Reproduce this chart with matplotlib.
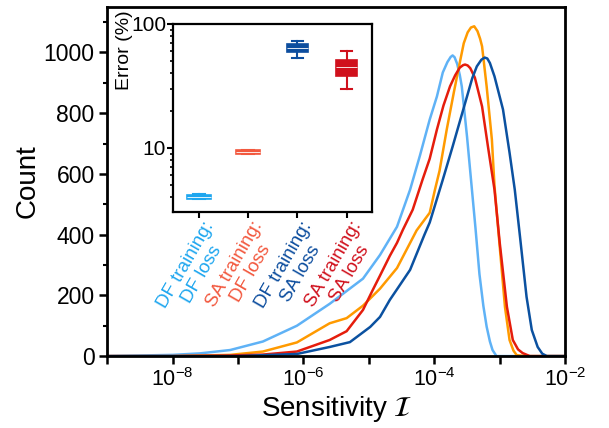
import numpy as np
import matplotlib
matplotlib.use('Agg')
import matplotlib.pyplot as plt
from matplotlib.ticker import MultipleLocator, LogLocator, NullFormatter
from matplotlib.transforms import blended_transform_factory

plt.rcParams['font.family'] = ['Liberation Sans', 'DejaVu Sans']
plt.rcParams['mathtext.fontset'] = 'custom'
plt.rcParams['mathtext.rm'] = 'Liberation Sans'
plt.rcParams['mathtext.it'] = 'Liberation Sans:italic'

# sensitivity histograms (x as log10 of sensitivity) ---------------------
lb_logx = [-9.0, -8.5, -8.0, -7.58, -7.12, -6.62, -6.10, -5.60, -5.09, -4.83, -4.57, -4.37, -4.22,
           -4.07, -3.96, -3.87, -3.80, -3.75, -3.72, -3.69, -3.65, -3.61, -3.58, -3.50, -3.43,
           -3.37, -3.31, -3.25, -3.20, -3.15, -3.11, -3.05, -2.0]
lb_count = [0, 2, 4, 9, 20, 48, 100, 172, 255, 333, 426, 548, 660,
            779, 855, 934, 968, 985, 990, 984, 962, 925, 888, 723, 560,
            420, 270, 165, 97, 48, 20, 0, 0]

or_logx = [-9.0, -8.0, -7.58, -7.12, -6.62, -6.10, -5.60, -5.34, -5.09, -4.83, -4.57, -4.27, -4.07,
           -3.99, -3.92, -3.81, -3.70, -3.61, -3.55, -3.49, -3.44, -3.39, -3.34, -3.30, -3.27,
           -3.20, -3.12, -3.08, -3.00, -2.92, -2.85, -2.79, -2.74, -2.6, -2.0]
or_count = [0, 0, 2, 4, 15, 45, 108, 125, 166, 222, 290, 414, 472,
            548, 610, 746, 870, 967, 1030, 1066, 1082, 1086, 1070, 1045, 1020,
            888, 713, 560, 360, 162, 53, 18, 3, 0, 0]

rd_logx = [-9.0, -8.0, -7.12, -6.62, -6.10, -5.60, -5.34, -5.09, -4.94, -4.83, -4.68, -4.57, -4.48,
           -4.33, -4.18, -4.07, -3.96, -3.86, -3.76, -3.68, -3.61, -3.56, -3.53, -3.49, -3.45,
           -3.38, -3.27, -3.18, -3.08, -3.00, -2.89, -2.80, -2.72, -2.65, -2.54, -2.0]
rd_count = [0, 0, 2, 5, 15, 53, 82, 152, 218, 265, 330, 373, 416,
            482, 581, 650, 746, 825, 888, 925, 950, 958, 960, 957, 948,
            917, 822, 690, 548, 373, 162, 53, 22, 10, 0, 0]

db_logx = [-9.0, -7.0, -6.62, -6.10, -5.60, -5.29, -4.98, -4.83, -4.68, -4.57, -4.37, -4.15, -4.07,
           -3.87, -3.72, -3.60, -3.50, -3.42, -3.35, -3.28, -3.23, -3.19, -3.15, -3.08, -2.95,
           -2.85, -2.77, -2.69, -2.59, -2.51, -2.42, -2.35, -2.28, -2.0]
db_count = [0, 0, 3, 7, 30, 46, 96, 129, 185, 220, 284, 400, 440,
            581, 690, 780, 855, 915, 954, 976, 983, 980, 965, 921, 812,
            670, 548, 393, 195, 86, 30, 8, 0, 0]

# inset: error box stats (%) ---------------------------------------------
box_labels = ['DF training:\nDF loss', 'SA training:\nDF loss',
              'DF training:\nSA loss', 'SA training:\nSA loss']
err_whislo = [3.85, 8.95, 53.5, 29.9]
err_q1 = [3.88, 9.0, 59.8, 37.9]
err_med = [4.03, 9.27, 64.4, 45.0]
err_q3 = [4.2, 9.6, 69.0, 51.0]
err_whishi = [4.22, 9.62, 73.0, 60.5]
box_colors = ['#1ea6ef', '#f2583e', '#0c4d9e', '#d0101c']

x_ticks = [1e-9, 1e-8, 1e-7, 1e-6, 1e-5, 1e-4, 1e-3, 1e-2]
x_ticklabels = ['', r'$10^{-8}$', '', r'$10^{-6}$', '', r'$10^{-4}$', '', r'$10^{-2}$']

fig = plt.figure(figsize=(6.09, 4.28), dpi=100)
ax = fig.add_axes([0.176, 0.168, 0.752, 0.816])

lw = 1.8
ax.plot(10 ** np.array(lb_logx), lb_count, color='#5fb2f6', lw=lw)
ax.plot(10 ** np.array(or_logx), or_count, color='#ff9a00', lw=lw)
ax.plot(10 ** np.array(rd_logx), rd_count, color='#e51d0c', lw=lw)
ax.plot(10 ** np.array(db_logx), db_count, color='#0b51a0', lw=lw)

ax.set_xscale('log')
ax.set_xlim(1e-9, 1e-2)
ax.set_ylim(0, 1150)
ax.set_xticks(x_ticks)
ax.set_xticklabels(x_ticklabels)
ax.xaxis.set_minor_locator(plt.NullLocator())
ax.yaxis.set_major_locator(MultipleLocator(200))
ax.yaxis.set_minor_locator(MultipleLocator(100))
ax.tick_params(axis='both', which='major', direction='out', length=6, width=1.8, pad=3)
ax.tick_params(axis='x', labelsize=15.5)
ax.tick_params(axis='y', labelsize=16.5)
ax.tick_params(axis='both', which='minor', direction='out', length=3, width=1.5)
for sp in ax.spines.values():
    sp.set_linewidth(2)
ax.set_xlabel(r'Sensitivity $\mathcal{I}$', fontsize=20, labelpad=2, math_fontfamily='stix')
ax.set_ylabel('Count', fontsize=20, labelpad=2)

# inset ++++++++++++++++++++++++++++++++++++++++++++++++++++++++++++++++++
ax_in = fig.add_axes([0.284, 0.505, 0.327, 0.439])
positions = [1, 2, 3, 4]
stats = []
for i in range(4):
    stats.append(dict(whislo=err_whislo[i], q1=err_q1[i], med=err_med[i],
                      q3=err_q3[i], whishi=err_whishi[i], fliers=[]))
bp = ax_in.bxp(stats, positions=positions, widths=[0.5, 0.5, 0.42, 0.42],
               patch_artist=True, showfliers=False)
for i, c in enumerate(box_colors):
    bp['boxes'][i].set(facecolor=c, edgecolor=c, linewidth=1.2)
    bp['medians'][i].set(color='white', linewidth=0.6)
    for w in bp['whiskers'][2 * i:2 * i + 2]:
        w.set(color=c, linewidth=1.5)
    for cap in bp['caps'][2 * i:2 * i + 2]:
        cap.set(color=c, linewidth=1.5)

ax_in.set_yscale('log')
ax_in.set_ylim(3.05, 100)
ax_in.set_xlim(0.47, 4.52)
ax_in.set_yticks([10, 100])
ax_in.set_yticklabels(['10', '100'])
ax_in.yaxis.set_minor_locator(LogLocator(base=10, subs=np.arange(2, 10), numticks=10))
ax_in.yaxis.set_minor_formatter(NullFormatter())
ax_in.set_xticks(positions)
ax_in.set_xticklabels([])
ax_in.tick_params(axis='both', which='major', direction='out', length=4, width=1.5, labelsize=15, pad=1)
ax_in.tick_params(axis='y', which='minor', direction='out', length=2.5, width=1.2)
for sp in ax_in.spines.values():
    sp.set_linewidth(1.6)
ax_in.text(-0.245, 0.86, 'Error (%)', transform=ax_in.transAxes, fontsize=14,
           rotation=90, ha='center', va='center')

trans = blended_transform_factory(ax_in.transData, ax_in.transAxes)
for i, lab in enumerate(box_labels):
    ax_in.text(positions[i] + 0.07, -0.035, lab, transform=trans, color=box_colors[i],
               fontsize=13.5, rotation=60, rotation_mode='anchor', ha='right', va='top',
               multialignment='center', linespacing=1.15)

plt.savefig('out.png', dpi=100)
